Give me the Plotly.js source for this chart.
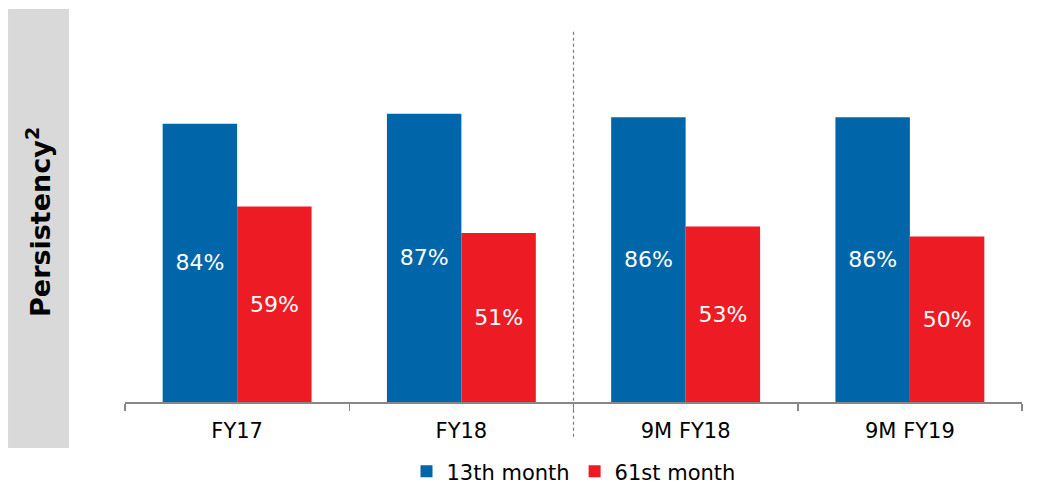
<!DOCTYPE html>
<html>
<head>
<meta charset="utf-8">
<script src="https://cdn.plot.ly/plotly-3.0.1.min.js"></script>
<style>html,body{margin:0;padding:0;background:#fff;}#chart{width:1050px;height:484px;}</style>
</head>
<body>
<div id="chart"></div>
<script>
const categories = ["FY17", "FY18", "9M FY18", "9M FY19"];
const month13 = [84, 87, 86, 86];
const month61 = [59, 51, 53, 50];
const seriesNames = ["13th month", "61st month"];
const yTitle = "Persistency<sup>2</sup>";

const font = "DejaVu Sans, Verdana, sans-serif";
const traces = [
  {type: "bar", name: seriesNames[0], x: categories, y: month13,
   marker: {color: "#0066AA"}, texttemplate: "%{y}%", textposition: "inside",
   insidetextanchor: "middle", textangle: 0,
   textfont: {color: "#ffffff", size: 22, family: font}, hoverinfo: "none"},
  {type: "bar", name: seriesNames[1], x: categories, y: month61,
   marker: {color: "#ED1C24"}, texttemplate: "%{y}%", textposition: "inside",
   insidetextanchor: "middle", textangle: 0,
   textfont: {color: "#ffffff", size: 22, family: font}, hoverinfo: "none"}
];
const layout = {
  width: 1050, height: 484,
  margin: {l: 125, r: 28, t: 31, b: 82, autoexpand: false},
  paper_bgcolor: "#ffffff", plot_bgcolor: "#ffffff",
  barmode: "group", bargap: 0.336, bargroupgap: 0,
  font: {family: font, color: "#000000"},
  showlegend: true,
  legend: {orientation: "h", x: 0.5, xanchor: "center", y: -0.243, yanchor: "bottom",
           font: {size: 21, family: font, color: "#000"}, itemwidth: 30, traceorder: "normal"},
  xaxis: {type: "category", showline: true, linecolor: "#878787", linewidth: 1.5,
          ticks: "outside", tickson: "boundaries", ticklen: 7, tickwidth: 1.5, tickcolor: "#878787",
          ticklabelstandoff: 9,
          tickfont: {size: 21, family: font, color: "#000"}, showgrid: false, zeroline: false,
          fixedrange: true, automargin: false},
  yaxis: {range: [0, 112], visible: false, showgrid: false, zeroline: false, fixedrange: true},
  shapes: [
    {type: "rect", xref: "paper", yref: "paper", x0: -0.1304, x1: -0.0624, y0: -0.124, y1: 1.059,
     fillcolor: "#D9D9D9", line: {width: 0}, layer: "below"},
    {type: "line", xref: "x", yref: "paper", x0: 1.5, x1: 1.5, y0: -0.094, y1: 1.003,
     line: {color: "#7a7a7a", width: 1.2, dash: "dot"}}
  ],
  annotations: [
    {xref: "paper", yref: "paper", x: -0.0964, y: 0.484, text: "<b>" + yTitle + "</b>",
     textangle: -90, showarrow: false, xanchor: "center", yanchor: "middle",
     font: {size: 27, family: font, color: "#000"}}
  ]
};
Plotly.newPlot("chart", traces, layout, {displayModeBar: false, staticPlot: true});
</script>
</body>
</html>
